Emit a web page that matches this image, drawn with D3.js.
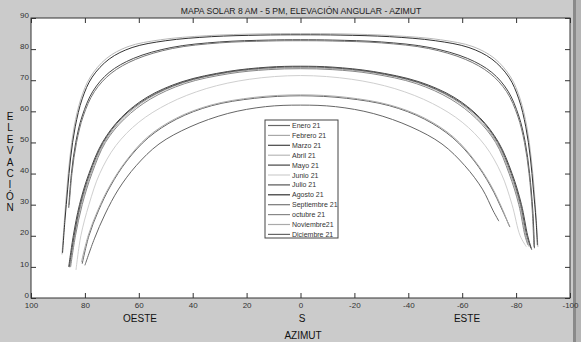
<!DOCTYPE html>
<html lang="es">
<head>
  <meta charset="UTF-8">
  <title>Mapa solar</title>
  <script src="https://cdn.jsdelivr.net/npm/d3@7"></script>
  <style>
    body { margin: 0; background: #cbcbcb; }
    svg { display: block; font-family: "Liberation Sans", Arial, sans-serif; }
    .tick text { fill: #333; font-size: 8px; }
    .lbl { font-size: 10px; fill: #111; }
  </style>
</head>
<body>
<svg width="581" height="342"></svg>
<script>
  // meses de la leyenda
  const months = ["Enero 21", "Febrero 21", "Marzo 21", "Abril 21", "Mayo 21", "Junio 21",
    "Julio 21", "Agosto 21", "Septiembre 21", "octubre 21", "Noviembre21", "Diciembre 21"];

  // [azimut, elevacion], de oeste (5 PM) a este (8 AM)
  const enero = [[81,11],[78.5,20],[75,28],[70.5,36],[64.5,44],[56.5,51.5],[46,57.5],[33,61.8],[17,64.2],[0,65],[-17,64.2],[-33,61.8],[-46,57.5],[-56.5,51.5],[-64.5,44],[-70.5,36],[-75,28],[-77.7,22.8]];
  const febrero = [[85.6,9.8],[83.8,20],[81.4,30],[77.8,40],[72.8,50],[65.8,57.8],[56.3,64.2],[43.5,69.2],[27,72.4],[12,73.7],[0,74],[-12,73.7],[-27,72.4],[-43.5,69.2],[-56.3,64.2],[-65.8,57.8],[-72.8,50],[-77.8,40],[-81.4,30],[-83.6,20],[-84.8,16.5]];
  const marzo = [[86,29],[85,40],[83.4,50],[81,58.5],[77,66.5],[71,72.5],[62,77],[48,80.5],[30,82.3],[12,82.9],[0,83],[-12,82.9],[-30,82.3],[-48,80.5],[-62,77],[-71,72.5],[-77,66.5],[-81,58.5],[-83.4,50],[-85,40],[-86.2,28],[-86.8,16]];
  const abril = [[88.5,14],[87.6,25],[86.7,35],[85.6,45],[84,55],[81.5,64],[78,71],[72,77],[64,80.8],[52,83],[35,84.3],[15,84.9],[0,85],[-15,84.9],[-35,84.3],[-52,83],[-64,80.8],[-72,77],[-78,71],[-81.5,64],[-84,55],[-85.6,45],[-86.7,35],[-87.5,25],[-88.1,16.4]];
  const mayo = [[86,10],[84.3,20],[82,30],[78.5,40],[73.5,50],[66.5,58],[57,64.5],[44,69.5],[27,72.8],[12,74.2],[0,74.5],[-12,74.2],[-27,72.8],[-44,69.5],[-57,64.5],[-66.5,58],[-73.5,50],[-78.5,40],[-82,30],[-84.3,20],[-85.8,15.5]];
  const junio = [[83.3,9],[81.5,20],[78.5,30],[74.5,40],[68.5,49],[60,56.5],[49,62.5],[35,67.3],[19,70.3],[0,71.5],[-19,70.3],[-35,67.3],[-49,62.5],[-60,56.5],[-68.5,49],[-74.5,40],[-78.5,30],[-81.5,20],[-83.8,16.5]];
  const julio = [[85.8,10],[84,20],[81.7,30],[78.2,40],[73.2,50],[66.2,58],[56.7,64.3],[43.8,69.3],[27,72.6],[12,74],[0,74.3],[-12,74],[-27,72.6],[-43.8,69.3],[-56.7,64.3],[-66.2,58],[-73.2,50],[-78.2,40],[-81.7,30],[-84,20],[-85.5,16]];
  const agosto = [[88.3,14.5],[87.4,25],[86.4,35],[85.3,45],[83.6,55],[81,64],[77.3,71],[71,76.8],[62.5,80.5],[50,82.7],[33,84],[15,84.5],[0,84.6],[-15,84.5],[-33,84],[-50,82.7],[-62.5,80.5],[-71,76.8],[-77.3,71],[-81,64],[-83.6,55],[-85.3,45],[-86.4,35],[-87.4,25],[-87.9,17]];
  const septiembre = [[85.8,30],[84.8,40],[83.1,50],[80.6,58.5],[76.5,66.3],[70.3,72.2],[61.2,76.7],[47.5,80.2],[30,82],[12,82.6],[0,82.7],[-12,82.6],[-30,82],[-47.5,80.2],[-61.2,76.7],[-70.3,72.2],[-76.5,66.3],[-80.6,58.5],[-83.1,50],[-84.8,40],[-86,28],[-86.6,16.5]];
  const octubre = [[85.3,10],[83.5,20],[81,30],[77.4,40],[72.4,50],[65.3,57.6],[55.8,63.9],[43,68.9],[26.5,72.1],[12,73.4],[0,73.7],[-12,73.4],[-26.5,72.1],[-43,68.9],[-55.8,63.9],[-65.3,57.6],[-72.4,50],[-77.4,40],[-81,30],[-83.3,20],[-84.4,17]];
  const noviembre = [[81.3,11.5],[78.8,20],[75.3,28],[70.8,36],[64.8,44],[56.8,51.7],[46.3,57.7],[33.3,62],[17,64.5],[0,65.3],[-17,64.5],[-33.3,62],[-46.3,57.7],[-56.8,51.7],[-64.8,44],[-70.8,36],[-75.2,28],[-77.4,23.2]];
  const diciembre = [[80,10.5],[76.5,19],[72.5,27],[67.5,35],[61,42.5],[52.5,49.5],[41,55],[27,59.3],[13,61.5],[0,62],[-13,61.5],[-27,59.3],[-41,55],[-52.5,49.5],[-61,42.5],[-67.5,35],[-71.5,28],[-73.6,24.7]];

  const series = [enero, febrero, marzo, abril, mayo, junio, julio, agosto, septiembre, octubre, noviembre, diciembre];
  const grays = ["#666", "#a8a8a8", "#444", "#b8b8b8", "#444", "#cfcfcf", "#555", "#333", "#777", "#888", "#aaa", "#666"];

  const xTicks = [100, 80, 60, 40, 20, 0, -20, -40, -60, -80, -100];
  const yTicks = [0, 10, 20, 30, 40, 50, 60, 70, 80, 90];

  const svg = d3.select("svg");
  const L = 31, R = 570, T = 18, B = 298;

  const x = d3.scaleLinear().domain([100, -100]).range([L, R]);
  const y = d3.scaleLinear().domain([0, 90]).range([B, T]);

  // borde oscuro a la derecha
  svg.append("rect").attr("x", 573).attr("y", 0).attr("width", 3).attr("height", 342).attr("fill", "#8a8a8a");
  svg.append("rect").attr("x", 576).attr("y", 0).attr("width", 5).attr("height", 342).attr("fill", "#b5b5b5");

  svg.append("rect").attr("x", L).attr("y", T).attr("width", R - L).attr("height", B - T).attr("fill", "#fff");

  // ejes con marcas hacia dentro
  const styleAxis = g => {
    g.select(".domain").remove();
    g.selectAll(".tick line").attr("stroke", "#333");
  };
  svg.append("g").attr("transform", `translate(0,${B})`)
    .call(d3.axisBottom(x).tickValues(xTicks).tickSizeInner(-5).tickSizeOuter(0).tickPadding(4).tickFormat(d => String(d)))
    .call(styleAxis);
  svg.append("g").attr("transform", `translate(0,${T})`)
    .call(d3.axisTop(x).tickValues(xTicks).tickSizeInner(-5).tickSizeOuter(0).tickFormat(""))
    .call(styleAxis);
  svg.append("g").attr("transform", `translate(${L},0)`)
    .call(d3.axisLeft(y).tickValues(yTicks).tickSizeInner(-5).tickSizeOuter(0).tickPadding(2))
    .call(styleAxis)
    .call(g => g.selectAll(".tick text").attr("dy", "-0.1em"));
  svg.append("g").attr("transform", `translate(${R},0)`)
    .call(d3.axisRight(y).tickValues(yTicks).tickSizeInner(-5).tickSizeOuter(0).tickFormat(""))
    .call(styleAxis);

  svg.append("rect").attr("x", L).attr("y", T).attr("width", R - L).attr("height", B - T)
    .attr("fill", "none").attr("stroke", "#333").attr("stroke-width", 1);

  // curvas
  const line = d3.line()
    .x(d => x(d[0]))
    .y(d => y(d[1]))
    .curve(d3.curveCatmullRom.alpha(0.5));

  svg.append("g").selectAll("path")
    .data(series)
    .join("path")
    .attr("d", line)
    .attr("fill", "none")
    .attr("stroke", (d, i) => grays[i])
    .attr("stroke-width", 1);

  // leyenda
  const leg = svg.append("g").attr("transform", "translate(265,120)");
  leg.append("rect").attr("width", 73).attr("height", 118)
    .attr("fill", "#fff").attr("stroke", "#444");
  const rows = leg.selectAll("g").data(months).join("g")
    .attr("transform", (d, i) => `translate(0,${5.5 + i * 9.9})`);
  rows.append("line").attr("x1", 3).attr("x2", 25)
    .attr("stroke", (d, i) => grays[i]).attr("stroke-width", 1.2);
  rows.append("text").attr("x", 27).attr("y", 2.5)
    .attr("font-size", 7).attr("fill", "#333").text(d => d);

  // textos
  svg.append("text").attr("x", 301).attr("y", 14).attr("text-anchor", "middle")
    .attr("font-size", 8.6).attr("fill", "#222")
    .text("MAPA SOLAR 8 AM - 5 PM, ELEVACIÓN ANGULAR - AZIMUT");

  const vert = "ELEVACIÓN".split("");
  svg.append("g").selectAll("text").data(vert).join("text")
    .attr("class", "lbl")
    .attr("x", 10).attr("y", (d, i) => 120 + i * 11.4)
    .attr("text-anchor", "middle")
    .text(d => d);

  svg.append("text").attr("class", "lbl").attr("x", 140).attr("y", 322).attr("text-anchor", "middle").text("OESTE");
  svg.append("text").attr("class", "lbl").attr("x", 302).attr("y", 322).attr("text-anchor", "middle").text("S");
  svg.append("text").attr("class", "lbl").attr("x", 467).attr("y", 322).attr("text-anchor", "middle").text("ESTE");
  svg.append("text").attr("class", "lbl").attr("x", 303).attr("y", 339).attr("text-anchor", "middle").text("AZIMUT");
</script>
</body>
</html>
